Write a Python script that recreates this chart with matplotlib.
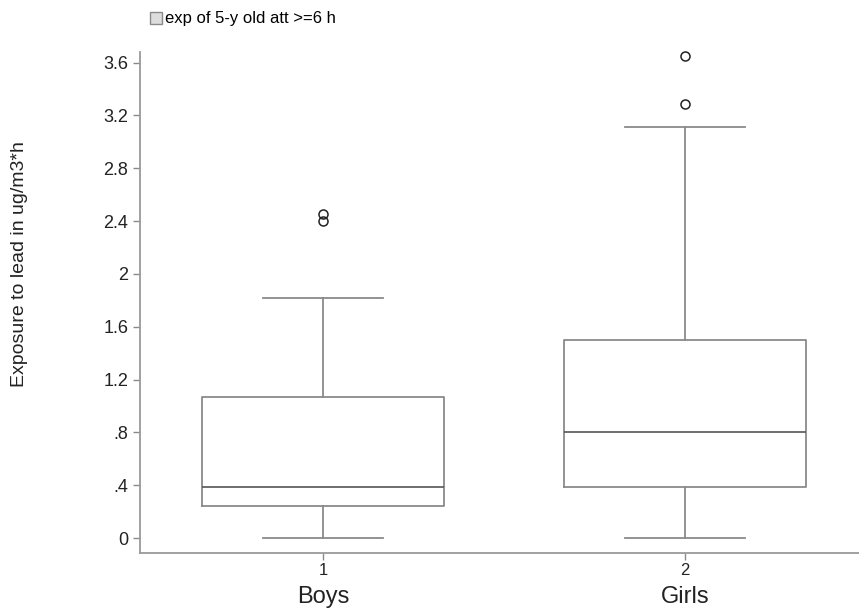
import matplotlib.pyplot as plt
from matplotlib.lines import Line2D
from matplotlib.transforms import blended_transform_factory

plt.rcParams['font.family'] = ['Liberation Sans', 'DejaVu Sans']

# group summary
groups = ['Boys', 'Girls']
positions = [1, 2]
q1 = [0.24, 0.39]
medians = [0.39, 0.80]
q3 = [1.07, 1.50]
whis_lo = [0.0, 0.0]
whis_hi = [1.82, 3.11]
outliers = [[2.40, 2.45], [3.29, 3.65]]
yticks = [0, 0.4, 0.8, 1.2, 1.6, 2.0, 2.4, 2.8, 3.2, 3.6]
ytick_labels = ['0', '.4', '.8', '1.2', '1.6', '2', '2.4', '2.8', '3.2', '3.6']

stats = []
for i in range(len(groups)):
    stats.append({'med': medians[i], 'q1': q1[i], 'q3': q3[i],
                  'whislo': whis_lo[i], 'whishi': whis_hi[i],
                  'fliers': outliers[i], 'label': str(positions[i])})

gray = '#8a8a8a'
fig = plt.figure(figsize=(8.59, 6.10), dpi=100)
ax = fig.add_axes([140/859, 1 - 553/610, 1 - 140/859, (553 - 52)/610])

line = dict(color=gray, linewidth=1.3)
ax.bxp(stats, positions=positions, widths=0.67, patch_artist=False,
       boxprops=line, whiskerprops=line, capprops=line,
       medianprops=dict(color='#555555', linewidth=1.2),
       flierprops=dict(marker='o', markersize=6.5, markerfacecolor='none',
                       markeredgecolor='#222222', markeredgewidth=1.1),
       capwidths=0.33)

ax.set_xlim(0.495, 2.48)
ax.set_ylim(-0.113, 3.68)
ax.set_yticks(yticks)
ax.set_yticklabels(ytick_labels, fontsize=13)
ax.set_xticks(positions)
ax.set_xticklabels([str(p) for p in positions], fontsize=12)
ax.tick_params(axis='both', colors=gray, labelcolor='#222222', length=5, width=1)
ax.tick_params(axis='x', pad=2)
for side in ['top', 'right']:
    ax.spines[side].set_visible(False)
for side in ['left', 'bottom']:
    ax.spines[side].set_color('#9a9a9a')
    ax.spines[side].set_linewidth(1.3)
for fl in ax.lines:
    fl.set_clip_on(False)

trans = blended_transform_factory(ax.transData, fig.transFigure)
for p, g in zip(positions, groups):
    ax.text(p, 1 - 597/610, g, transform=trans, ha='center', va='center',
            fontsize=17, color='#222222')

fig.text(20/859, 1 - 264/610, 'Exposure to lead in ug/m3*h', rotation=90,
         ha='center', va='center', fontsize=14, color='#222222')

handle = Line2D([], [], marker='s', linestyle='none', markersize=8,
                markerfacecolor='#dddddd', markeredgecolor=gray)
fig.legend([handle], ['exp of 5-y old att >=6 h'], loc='center left',
           bbox_to_anchor=(140/859, 1 - 19/610), frameon=False, fontsize=12,
           handletextpad=0.1, borderpad=0, handlelength=0.9)

fig.savefig('out.png', dpi=100)
